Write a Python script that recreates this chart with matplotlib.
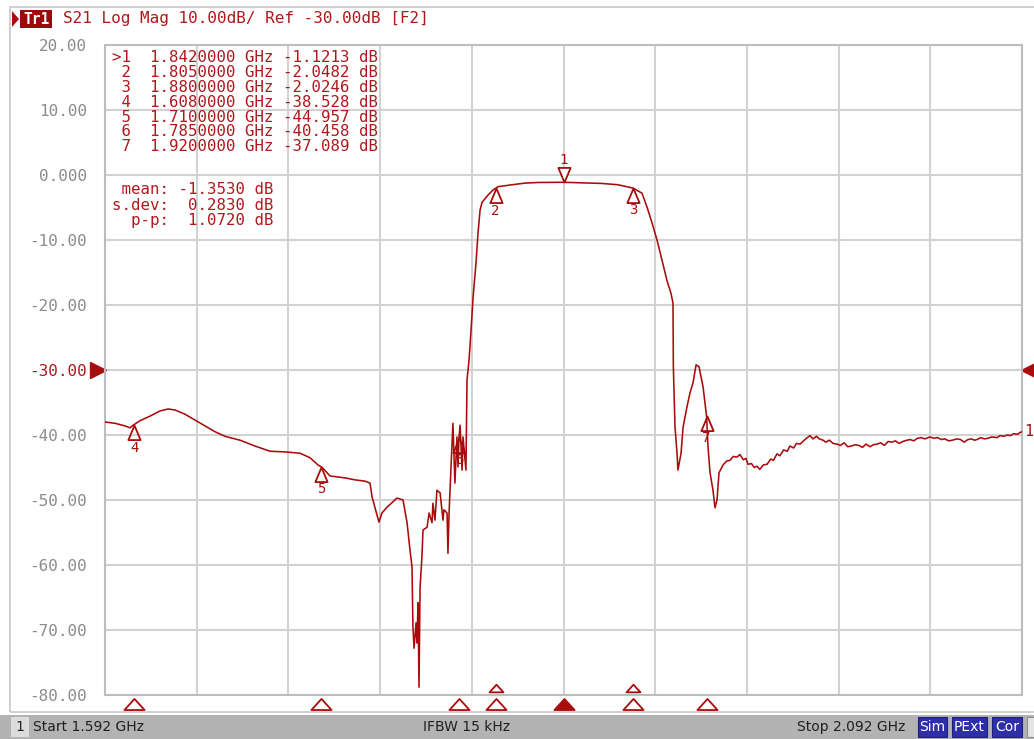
import matplotlib
matplotlib.use("Agg")
import matplotlib.pyplot as plt
import matplotlib.transforms as mtransforms
from matplotlib.patches import Rectangle, Polygon
from matplotlib.path import Path
import numpy as np

# ---------------- data ----------------
start_ghz = 1.592
stop_ghz = 2.092
ref_level_db = -30.0
y_ticks_db = [20, 10, 0, -10, -20, -30, -40, -50, -60, -70, -80]
y_tick_labels = ["20.00", "10.00", "0.000", "-10.00", "-20.00", "-30.00",
                 "-40.00", "-50.00", "-60.00", "-70.00", "-80.00"]

freq_ghz = [
    1.5920, 1.5975, 1.6029, 1.6056, 1.6073, 1.6111, 1.6165, 1.6220, 1.6264, 1.6302,
    1.6356, 1.6411, 1.6465, 1.6520, 1.6574, 1.6656, 1.6738, 1.6820, 1.6901, 1.6983,
    1.7038, 1.7081, 1.7103, 1.7147, 1.7229, 1.7283, 1.7338, 1.7365, 1.7376, 1.7398,
    1.7414, 1.7430, 1.7458, 1.7512, 1.7545, 1.7567, 1.7583, 1.7594, 1.7599, 1.7605,
    1.7616, 1.7621, 1.7627, 1.7632, 1.7638, 1.7648, 1.7654, 1.7676, 1.7687, 1.7703,
    1.7708, 1.7719, 1.7730, 1.7747, 1.7763, 1.7768, 1.7785, 1.7790, 1.7796, 1.7807,
    1.7817, 1.7828, 1.7839, 1.7845, 1.7850, 1.7856, 1.7867, 1.7872, 1.7888, 1.7894,
    1.7905, 1.7916, 1.7927, 1.7943, 1.7954, 1.7965, 1.7976, 1.8008, 1.8036, 1.8050,
    1.8063, 1.8139, 1.8210, 1.8281, 1.8420, 1.8521, 1.8630, 1.8717, 1.8800, 1.8848,
    1.8875, 1.8903, 1.8930, 1.8957, 1.8984, 1.9006, 1.9017, 1.9019, 1.9028, 1.9039,
    1.9044, 1.9061, 1.9072, 1.9093, 1.9110, 1.9126, 1.9143, 1.9159, 1.9181, 1.9200,
    1.9208, 1.9219, 1.9235, 1.9246, 1.9257, 1.9268, 1.9290, 1.9310, 1.9328, 1.9345,
    1.9366, 1.9382, 1.9400, 1.9415, 1.9426, 1.9445, 1.9460, 1.9475, 1.9490, 1.9510,
    1.9530, 1.9550, 1.9565, 1.9584, 1.9600, 1.9620, 1.9640, 1.9655, 1.9675, 1.9690,
    1.9710, 1.9725, 1.9745, 1.9764, 1.9780, 1.9800, 1.9815, 1.9835, 1.9850, 1.9870,
    1.9890, 1.9911, 1.9930, 1.9950, 1.9970, 1.9990, 2.0010, 2.0030, 2.0050, 2.0070,
    2.0091, 2.0110, 2.0130, 2.0150, 2.0170, 2.0190, 2.0210, 2.0230, 2.0250, 2.0270,
    2.0293, 2.0310, 2.0330, 2.0350, 2.0370, 2.0390, 2.0418, 2.0440, 2.0460, 2.0480,
    2.0500, 2.0520, 2.0540, 2.0566, 2.0585, 2.0605, 2.0625, 2.0645, 2.0660, 2.0675,
    2.0695, 2.0715, 2.0735, 2.0755, 2.0784, 2.0800, 2.0820, 2.0840, 2.0855, 2.0875,
    2.0895, 2.0910, 2.0920,
]
s21_db = [
    -38.0, -38.2, -38.6, -38.9, -38.5, -37.8, -37.1, -36.3, -36.0, -36.15,
    -36.8, -37.7, -38.6, -39.5, -40.2, -40.8, -41.7, -42.5, -42.6, -42.8,
    -43.5, -44.6, -44.96, -46.3, -46.6, -46.9, -47.1, -47.4, -49.5, -51.8,
    -53.4, -52.0, -51.1, -49.7, -50.0, -53.5, -57.7, -60.3, -69.5, -72.8,
    -68.9, -72.0, -65.8, -78.8, -63.4, -58.8, -54.6, -54.2, -52.0, -53.5,
    -50.5, -53.1, -48.5, -48.9, -53.1, -51.5, -52.0, -58.2, -52.0, -44.9,
    -38.2, -47.4, -40.3, -44.9, -40.46, -38.5, -45.4, -40.3, -45.4, -31.5,
    -28.5, -23.8, -18.8, -13.5, -8.9, -5.4, -4.2, -3.1, -2.3, -2.05,
    -1.8, -1.5, -1.25, -1.15, -1.12, -1.2, -1.3, -1.5, -2.02, -2.8,
    -4.9, -7.4, -10.0, -13.1, -16.2, -18.2, -19.7, -29.5, -38.8, -42.8,
    -45.4, -42.8, -38.8, -35.7, -33.5, -32.0, -29.2, -29.5, -32.6, -37.09,
    -41.8, -45.8, -48.5, -51.2, -50.0, -45.8, -44.6, -44.0, -43.9, -43.3,
    -43.4, -43.0, -43.8, -43.6, -44.5, -44.4, -45.0, -44.8, -45.3, -44.6,
    -44.5, -43.7, -43.9, -42.9, -43.2, -42.3, -42.5, -41.7, -42.0, -41.3,
    -41.4, -41.0, -40.5, -40.1, -40.6, -40.2, -40.6, -40.8, -41.1, -40.8,
    -41.3, -41.4, -41.6, -41.2, -41.8, -41.7, -41.5, -41.6, -41.9, -41.4,
    -41.8, -41.5, -41.4, -41.2, -41.6, -41.0, -41.1, -40.9, -41.3, -41.0,
    -40.8, -40.7, -40.9, -40.5, -40.4, -40.6, -40.3, -40.5, -40.4, -40.7,
    -40.6, -40.9, -40.8, -40.6, -40.7, -41.1, -40.7, -40.6, -40.8, -40.7,
    -40.4, -40.6, -40.5, -40.3, -40.4, -40.1, -40.2, -40.0, -40.1, -39.8,
    -39.9, -39.6, -39.5,
]

marker_ids = [1, 2, 3, 4, 5, 6, 7]
marker_freq_ghz = [1.8420000, 1.8050000, 1.8800000, 1.6080000, 1.7100000, 1.7850000, 1.9200000]
marker_db = [-1.1213, -2.0482, -2.0246, -38.528, -44.957, -40.458, -37.089]
stat_names = ["mean:", "s.dev:", "p-p:"]
stat_values = [-1.3530, 0.2830, 1.0720]

header_text = "S21 Log Mag 10.00dB/ Ref -30.00dB [F2]"
start_text = "Start 1.592 GHz"
ifbw_text = "IFBW 15 kHz"
stop_text = "Stop 2.092 GHz"
status_flags = ["Sim", "PExt", "Cor"]

# ---------------- style ----------------
RED = "#a80c0c"
TXT_RED = "#b0181c"
GRID = "#d2d2d2"
W, H = 1034, 739
MONO = "DejaVu Sans Mono"

fig = plt.figure(figsize=(W / 100, H / 100), dpi=100)
fig.patch.set_facecolor("white")


def fx(x):
    return x / W


def fy(y):
    return 1 - y / H


# outer frame
fig.add_artist(Rectangle((fx(10), fy(712)), fx(1040) - fx(10), fy(7) - fy(712),
                         transform=fig.transFigure, fill=False, ec="#c8c8c8", lw=1.2))

ax = fig.add_axes([fx(105), fy(695), (1022 - 105) / W, (695 - 45) / H])
ax.set_xlim(start_ghz, stop_ghz)
ax.set_ylim(-80, 20)
ax.set_xticks(np.linspace(start_ghz, stop_ghz, 11))
ax.set_yticks(y_ticks_db)
ax.set_yticklabels(y_tick_labels, family=MONO, fontsize=11.5)
for lab, v in zip(ax.get_yticklabels(), y_ticks_db):
    lab.set_color(TXT_RED if v == ref_level_db else "#8c8c8c")
ax.tick_params(length=0, labelbottom=False, pad=13)
ax.grid(True, color=GRID, lw=1.5)
ax.set_axisbelow(True)
for s in ax.spines.values():
    s.set_color("#bdbdbd")
    s.set_linewidth(1.5)

ax.plot(freq_ghz, s21_db, color=RED, lw=1.15, zorder=3)

# trace markers
up_tri = Path([(0, 0), (0.42, -1), (-0.42, -1), (0, 0)],
              [Path.MOVETO, Path.LINETO, Path.LINETO, Path.CLOSEPOLY])
down_tri = Path([(0, 0), (0.42, 1), (-0.42, 1), (0, 0)],
                [Path.MOVETO, Path.LINETO, Path.LINETO, Path.CLOSEPOLY])
for mid, f, v in zip(marker_ids, marker_freq_ghz, marker_db):
    if mid == 1:
        ax.plot([f], [v], marker=down_tri, ms=21, mfc="white", mec=RED, mew=1.3,
                ls="none", zorder=5)
        ax.annotate(str(mid), (f, v), xytext=(0, 11), textcoords="offset points",
                    ha="center", va="bottom", fontsize=10, color=RED, family=MONO)
    else:
        ax.plot([f], [v], marker=up_tri, ms=21, mfc="none", mec=RED, mew=1.3,
                ls="none", zorder=5)
        ax.annotate(str(mid), (f, v), xytext=(0, -11), textcoords="offset points",
                    ha="center", va="top", fontsize=10, color=RED, family=MONO)

# markers below the grid
blend = mtransforms.blended_transform_factory(ax.transData, ax.transAxes)
flat_tri = Path([(0, 0.55), (1, -0.55), (-1, -0.55), (0, 0.55)],
                [Path.MOVETO, Path.LINETO, Path.LINETO, Path.CLOSEPOLY])
for mid, f in zip(marker_ids, marker_freq_ghz):
    ax.plot([f], [-0.0135], marker=flat_tri, ms=14.5, transform=blend,
            mfc=RED if mid == 1 else "white", mec=RED, mew=1.3, clip_on=False, ls="none")
    if mid in (2, 3):
        ax.plot([f], [0.011], marker=flat_tri, ms=10, transform=blend,
                mfc="white", mec=RED, mew=1.3, clip_on=False, ls="none")

# reference level arrows
yblend = mtransforms.blended_transform_factory(ax.transAxes, ax.transData)
ax.plot([-0.0075], [ref_level_db], marker=">", ms=11, color=RED, transform=yblend,
        clip_on=False)
ax.plot([1.0075], [ref_level_db], marker="<", ms=11, color=RED, transform=yblend,
        clip_on=False)
fig.text(fx(1024), fy(431), "1", color=RED, fontsize=11, family=MONO, va="center")

# header
fig.add_artist(Polygon([(fx(12), fy(11)), (fx(19), fy(19)), (fx(12), fy(27))],
                       closed=True, transform=fig.transFigure, fc=RED, ec="none"))
fig.add_artist(Rectangle((fx(20), fy(28)), fx(52) - fx(20), fy(10) - fy(28),
                         transform=fig.transFigure, fc="#9a0a0a", ec="none"))
fig.text(fx(36), fy(19), "Tr1", color="white", fontsize=10.5, family=MONO,
         weight="bold", ha="center", va="center")
fig.text(fx(63), fy(19), header_text, color=TXT_RED, fontsize=11.5, family=MONO,
         va="center")

# marker table
for i, (mid, f, v) in enumerate(zip(marker_ids, marker_freq_ghz, marker_db)):
    prefix = ">" if mid == 1 else " "
    if abs(v) < 10:
        vs = f"{v:.4f}"
    else:
        vs = f"{v:.3f}"
    line = f"{prefix}{mid}  {f:.7f} GHz {vs:>7} dB"
    fig.text(fx(112), fy(58 + 14.8 * i), line, color=TXT_RED, fontsize=11.3,
             family=MONO, va="center")

for i, (n, v) in enumerate(zip(stat_names, stat_values)):
    line = f"{n:>6} {v:7.4f} dB"
    fig.text(fx(112), fy(190 + 15 * i), line, color=TXT_RED, fontsize=11.3,
             family=MONO, va="center")

# status bar
fig.add_artist(Rectangle((0, 0), 1, fy(715), transform=fig.transFigure,
                         fc="#b3b3b3", ec="none"))
fig.add_artist(Rectangle((fx(11), fy(737)), fx(29) - fx(11), fy(717) - fy(737),
                         transform=fig.transFigure, fc="#dcdcdc", ec="none"))
fig.text(fx(20), fy(727), "1", fontsize=10, color="#202020", ha="center", va="center")
fig.text(fx(33), fy(727), start_text, fontsize=10, color="#202020", va="center")
fig.text(fx(510), fy(727), ifbw_text, fontsize=10, color="#202020", va="center",
         ha="right")
fig.text(fx(905), fy(727), stop_text, fontsize=10, color="#202020", va="center",
         ha="right")
boxes = [(918, 947), (952, 987), (992, 1022)]
for (x0, x1), lab in zip(boxes, status_flags):
    fig.add_artist(Rectangle((fx(x0), fy(737)), fx(x1) - fx(x0), fy(717) - fy(737),
                             transform=fig.transFigure, fc="#2e2ea8", ec="#20207a",
                             lw=0.8))
    fig.text(fx((x0 + x1) / 2), fy(727), lab, fontsize=10, color="white",
             ha="center", va="center")
fig.add_artist(Rectangle((fx(1027), fy(737)), fx(1036) - fx(1027), fy(717) - fy(737),
                         transform=fig.transFigure, fc="#e4e4e4", ec="#909090", lw=0.8))

fig.savefig("out.png", dpi=100, facecolor="white")
